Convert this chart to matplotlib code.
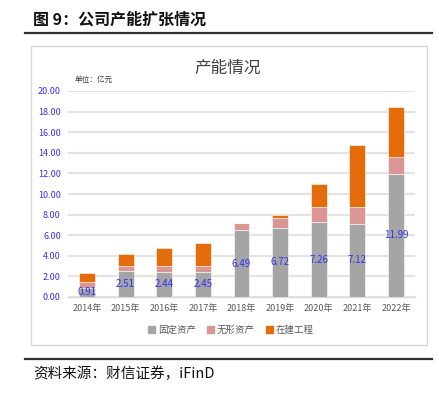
import matplotlib.pyplot as plt
from matplotlib.patches import Rectangle
from matplotlib.lines import Line2D
import numpy as np

plt.rcParams['font.family'] = ['Noto Sans CJK SC', 'DejaVu Sans']

years = ['2014年', '2015年', '2016年', '2017年', '2018年', '2019年', '2020年', '2021年', '2022年']
fixed = [0.91, 2.51, 2.44, 2.45, 6.49, 6.72, 7.26, 7.12, 11.99]
intangible = [0.58, 0.53, 0.57, 0.60, 0.68, 0.98, 1.45, 1.59, 1.60]
construction = [0.84, 1.10, 1.79, 2.23, 0.05, 0.26, 2.26, 6.02, 4.89]
yticks = np.arange(0, 21, 2)

c_fixed = '#A5A5A5'
c_int = '#D99694'
c_con = '#E46C0A'

W, H = 439, 394
fig = plt.figure(figsize=(W / 100, H / 100), dpi=100)

# header + rules
fig.text(33 / W, 1 - 20 / H, '图 9：公司产能扩张情况', fontsize=11.5, fontweight='bold',
         va='center', ha='left', color='#111111')
fig.add_artist(Line2D([25 / W, 432 / W], [1 - 33 / H, 1 - 33 / H], color='#333333', lw=1.6))
fig.add_artist(Line2D([25 / W, 432 / W], [1 - 359 / H, 1 - 359 / H], color='#333333', lw=1.6))
fig.text(33 / W, 1 - 374 / H, '资料来源：财信证券，iFinD', fontsize=10.5, style='italic',
         va='center', ha='left', color='#111111')

# chart frame
fig.add_artist(Rectangle((31 / W, 1 - 345 / H), 396 / W, 299 / H, fill=False,
                         edgecolor='#D9D9D9', lw=1))
fig.text(228 / W, 1 - 68 / H, '产能情况', fontsize=12, ha='center', va='center', color='#404040')
fig.text(75 / W, 1 - 80 / H, '单位：亿元', fontsize=5.5, ha='left', va='center', color='#404040')

ax = fig.add_axes([67.7 / W, 1 - 297 / H, 347.6 / W, 206 / H])
x = np.arange(len(years))
bw = 0.41
ax.bar(x, fixed, bw, color=c_fixed, edgecolor='white', lw=0.4, zorder=3)
bottom2 = np.array(fixed)
ax.bar(x, intangible, bw, bottom=bottom2, color=c_int, edgecolor='white', lw=0.4, zorder=3)
bottom3 = bottom2 + np.array(intangible)
ax.bar(x, construction, bw, bottom=bottom3, color=c_con, edgecolor='white', lw=0.4, zorder=3)

for i, v in enumerate(fixed):
    ax.text(i, v / 2, f'{v:.2f}', ha='center', va='center', fontsize=7, color='#3333EE', zorder=4)

ax.set_xlim(-0.5, len(years) - 0.5)
ax.set_ylim(0, 20)
ax.set_yticks(yticks)
ax.set_yticklabels([f'{t:.2f}' for t in yticks], fontsize=6.5, color='#3333EE')
ax.set_xticks(x)
ax.set_xticklabels(years, fontsize=6.5, color='#595959')
ax.tick_params(length=0, pad=5)
ax.yaxis.grid(True, color='#E3E3E3', lw=1.5, zorder=0)
for s in ['top', 'right', 'left']:
    ax.spines[s].set_visible(False)
ax.spines['bottom'].set_color('#D9D9D9')
ax.spines['bottom'].set_linewidth(1)

handles = [Rectangle((0, 0), 1, 1, color=c) for c in (c_fixed, c_int, c_con)]
fig.legend(handles, ['固定资产', '无形资产', '在建工程'], loc='center',
           bbox_to_anchor=(231 / W, 1 - 330 / H), ncol=3, frameon=False,
           fontsize=6.8, handlelength=0.7, handleheight=0.7, handletextpad=0.3,
           columnspacing=1.2, labelcolor='#595959')

fig.savefig('out.png', dpi=100)
